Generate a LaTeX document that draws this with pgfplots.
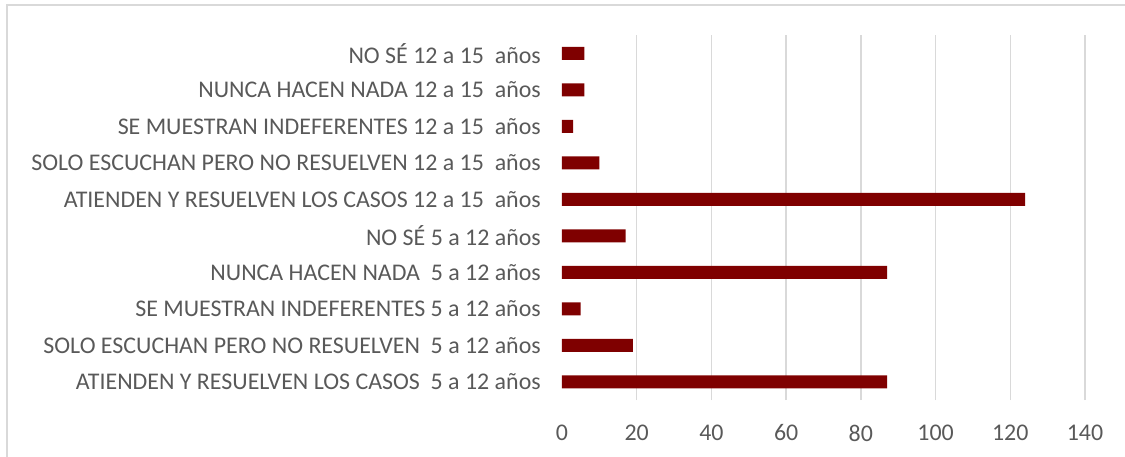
\documentclass[border=0pt]{standalone}
\usepackage{pgfplots}
\pgfplotsset{compat=1.18}
\usepackage{fontspec}
\setmainfont{Carlito}
\definecolor{barred}{HTML}{7F0000}
\definecolor{txtgray}{HTML}{595959}
\definecolor{gridgray}{HTML}{D9D9D9}
\begin{document}
\begin{tikzpicture}
\begin{axis}[
  at={(0,0)}, anchor=south west,
  scale only axis, width=523bp, height=365bp,
  xbar, bar width=13bp,
  xmin=0, xmax=140, ymin=-0.5, ymax=9.5,
  xtick={20,40,...,140}, extra x ticks={0}, extra x tick style={grid=none},
  xmajorgrids, grid style={gridgray, line width=1.3bp},
  ytick={0,...,9},
  yticklabels={
    ATIENDEN Y RESUELVEN LOS CASOS\ \ 5 a 12 años,
    SOLO ESCUCHAN PERO NO RESUELVEN\ \ 5 a 12 años,
    SE MUESTRAN INDEFERENTES 5 a 12 años,
    NUNCA HACEN NADA\ \ 5 a 12 años,
    NO SÉ 5 a 12 años,
    ATIENDEN Y RESUELVEN LOS CASOS 12 a 15\ \ años,
    SOLO ESCUCHAN PERO NO RESUELVEN 12 a 15\ \ años,
    SE MUESTRAN INDEFERENTES 12 a 15\ \ años,
    NUNCA HACEN NADA 12 a 15\ \ años,
    NO SÉ 12 a 15\ \ años\ },
  major tick length=0pt,
  axis line style={draw=none},
  tick label style={font=\fontsize{24}{28}\selectfont, text=txtgray},
  yticklabel style={anchor=east, inner sep=0pt, xshift=-21bp},
  xticklabel style={anchor=center, inner sep=0pt, yshift=-33bp},
  /pgf/number format/assume math mode=true,
]
\addplot[fill=barred, draw=none] coordinates {
  (87,0) (19,1) (5,2) (87,3) (17,4)
  (124,5) (10,6) (3,7) (6,8) (6,9)};
\end{axis}
\draw[gridgray, line width=1.5bp] (-555bp,-57bp) -- (-555bp,395bp) -- (563bp,395bp);
\pgfresetboundingbox
\useasboundingbox (-562bp,-57bp) rectangle (563bp,400bp);
\end{tikzpicture}
\end{document}
